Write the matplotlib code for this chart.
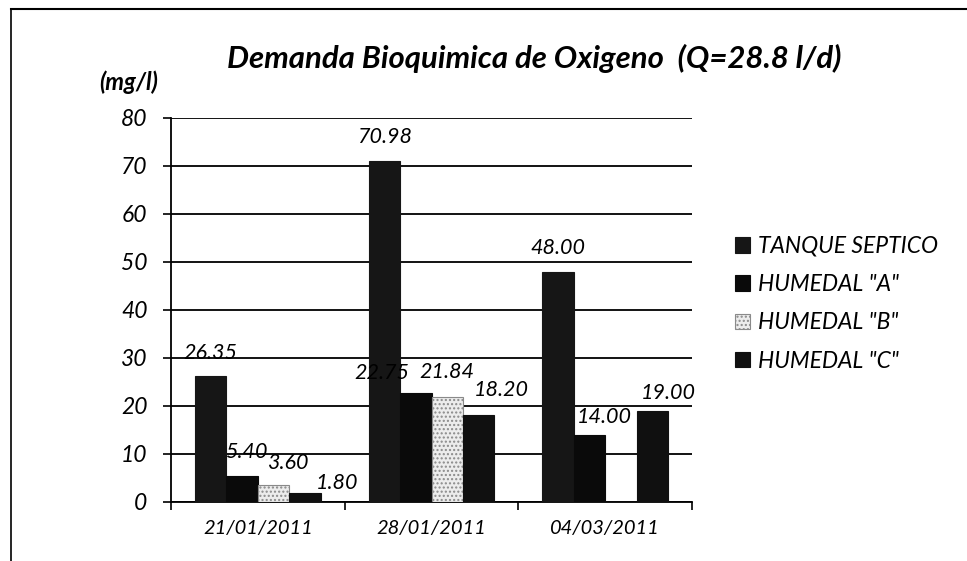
import numpy as np
import matplotlib
matplotlib.use("Agg")
import matplotlib.pyplot as plt
from matplotlib.lines import Line2D

plt.rcParams['font.family'] = ['Lato', 'DejaVu Sans']
plt.rcParams['hatch.color'] = '#8a8a8a'

# data
fechas = ["21/01/2011", "28/01/2011", "04/03/2011"]
series = ['TANQUE SEPTICO', 'HUMEDAL "A"', 'HUMEDAL "B"', 'HUMEDAL "C"']
tanque = [26.35, 70.98, 48.00]
humedal_a = [5.40, 22.75, 14.00]
humedal_b = [3.60, 21.84, 0.0]
humedal_c = [1.80, 18.20, 19.00]
valores = [tanque, humedal_a, humedal_b, humedal_c]

colores = ['#161616', '#0a0a0a', '#ececec', '#101010']
hatches = [None, None, '....', None]

# label nudges in pixels (dx, dy) - excel put some labels off-centre
nudges = [
    [(0, 23), (0, 24), (0, 24)],
    [(4, 24), (-34, 20), (15, 18)],
    [(14, 22), (0, 25), (0, 0)],
    [(32, 10), (23, 25), (16, 18)],
]

fig = plt.figure(figsize=(9.67, 5.61), dpi=100)
ax = fig.add_axes([171/967, 1-502/561, (692-171)/967, (502-118)/561])

x = np.arange(len(fechas))
w = 0.181
px = 0.72  # points per pixel

for i, vals in enumerate(valores):
    xs = x + (i - 1.5) * w
    ec = '#8a8a8a' if hatches[i] else colores[i]
    bars = ax.bar(xs, vals, w, color=colores[i], edgecolor=ec, hatch=hatches[i],
                  linewidth=0.8, label=series[i], zorder=3)
    for j, b in enumerate(bars):
        if vals[j] == 0:
            continue
        dx, dy = nudges[i][j]
        ax.annotate('%.2f' % vals[j], (b.get_x() + w/2, vals[j]),
                    xytext=(dx*px, dy*px), textcoords='offset points',
                    ha='center', va='center', fontsize=15.5, style='italic',
                    zorder=4)

ax.set_xlim(-0.5, 2.5)
ax.set_ylim(0, 80)
ax.set_yticks(np.arange(0, 81, 10))
ax.set_xticks([-0.5, 0.5, 1.5, 2.5])
ax.set_xticklabels([])
ax.set_xticks(x, minor=True)
ax.set_xticklabels(fechas, minor=True, fontsize=14.5, style='italic')
ax.tick_params(axis='x', which='major', length=6, width=1.2, direction='out')
ax.tick_params(axis='x', which='minor', length=0, pad=13)
ax.tick_params(axis='y', length=6, width=1.2, pad=11, labelsize=16.5)
for t in ax.get_yticklabels():
    t.set_style('italic')

ax.grid(axis='y', color='black', linewidth=1.3, zorder=0)
ax.set_axisbelow(True)
for s in ['top', 'right']:
    ax.spines[s].set_visible(False)
for s in ['left', 'bottom']:
    ax.spines[s].set_linewidth(1.3)

fig.text(227/967, 1-58/561, 'Demanda Bioquimica de Oxigeno  (Q=28.8 l/d)',
         fontsize=22.4, fontweight='bold', style='italic', ha='left', va='center')
fig.text(99/967, 1-82/561, '(mg/l)', fontsize=17, fontweight='bold',
         style='italic', ha='left', va='center')

fig.legend(loc='upper left', bbox_to_anchor=(735/967, 1-236/561), frameon=False,
           prop={'style': 'italic', 'size': 16.5},
           handlelength=0.65, handleheight=0.65, handletextpad=0.35,
           labelspacing=0.75, borderpad=0, borderaxespad=0)

# outer frame of the scanned chart (left and top only)
fig.add_artist(Line2D([11/967, 11/967], [0, 1-9/561], color='black', lw=1.2,
                      transform=fig.transFigure))
fig.add_artist(Line2D([11/967, 1], [1-9/561, 1-9/561], color='black', lw=1.5,
                      transform=fig.transFigure))

fig.savefig('out.png', dpi=100)
